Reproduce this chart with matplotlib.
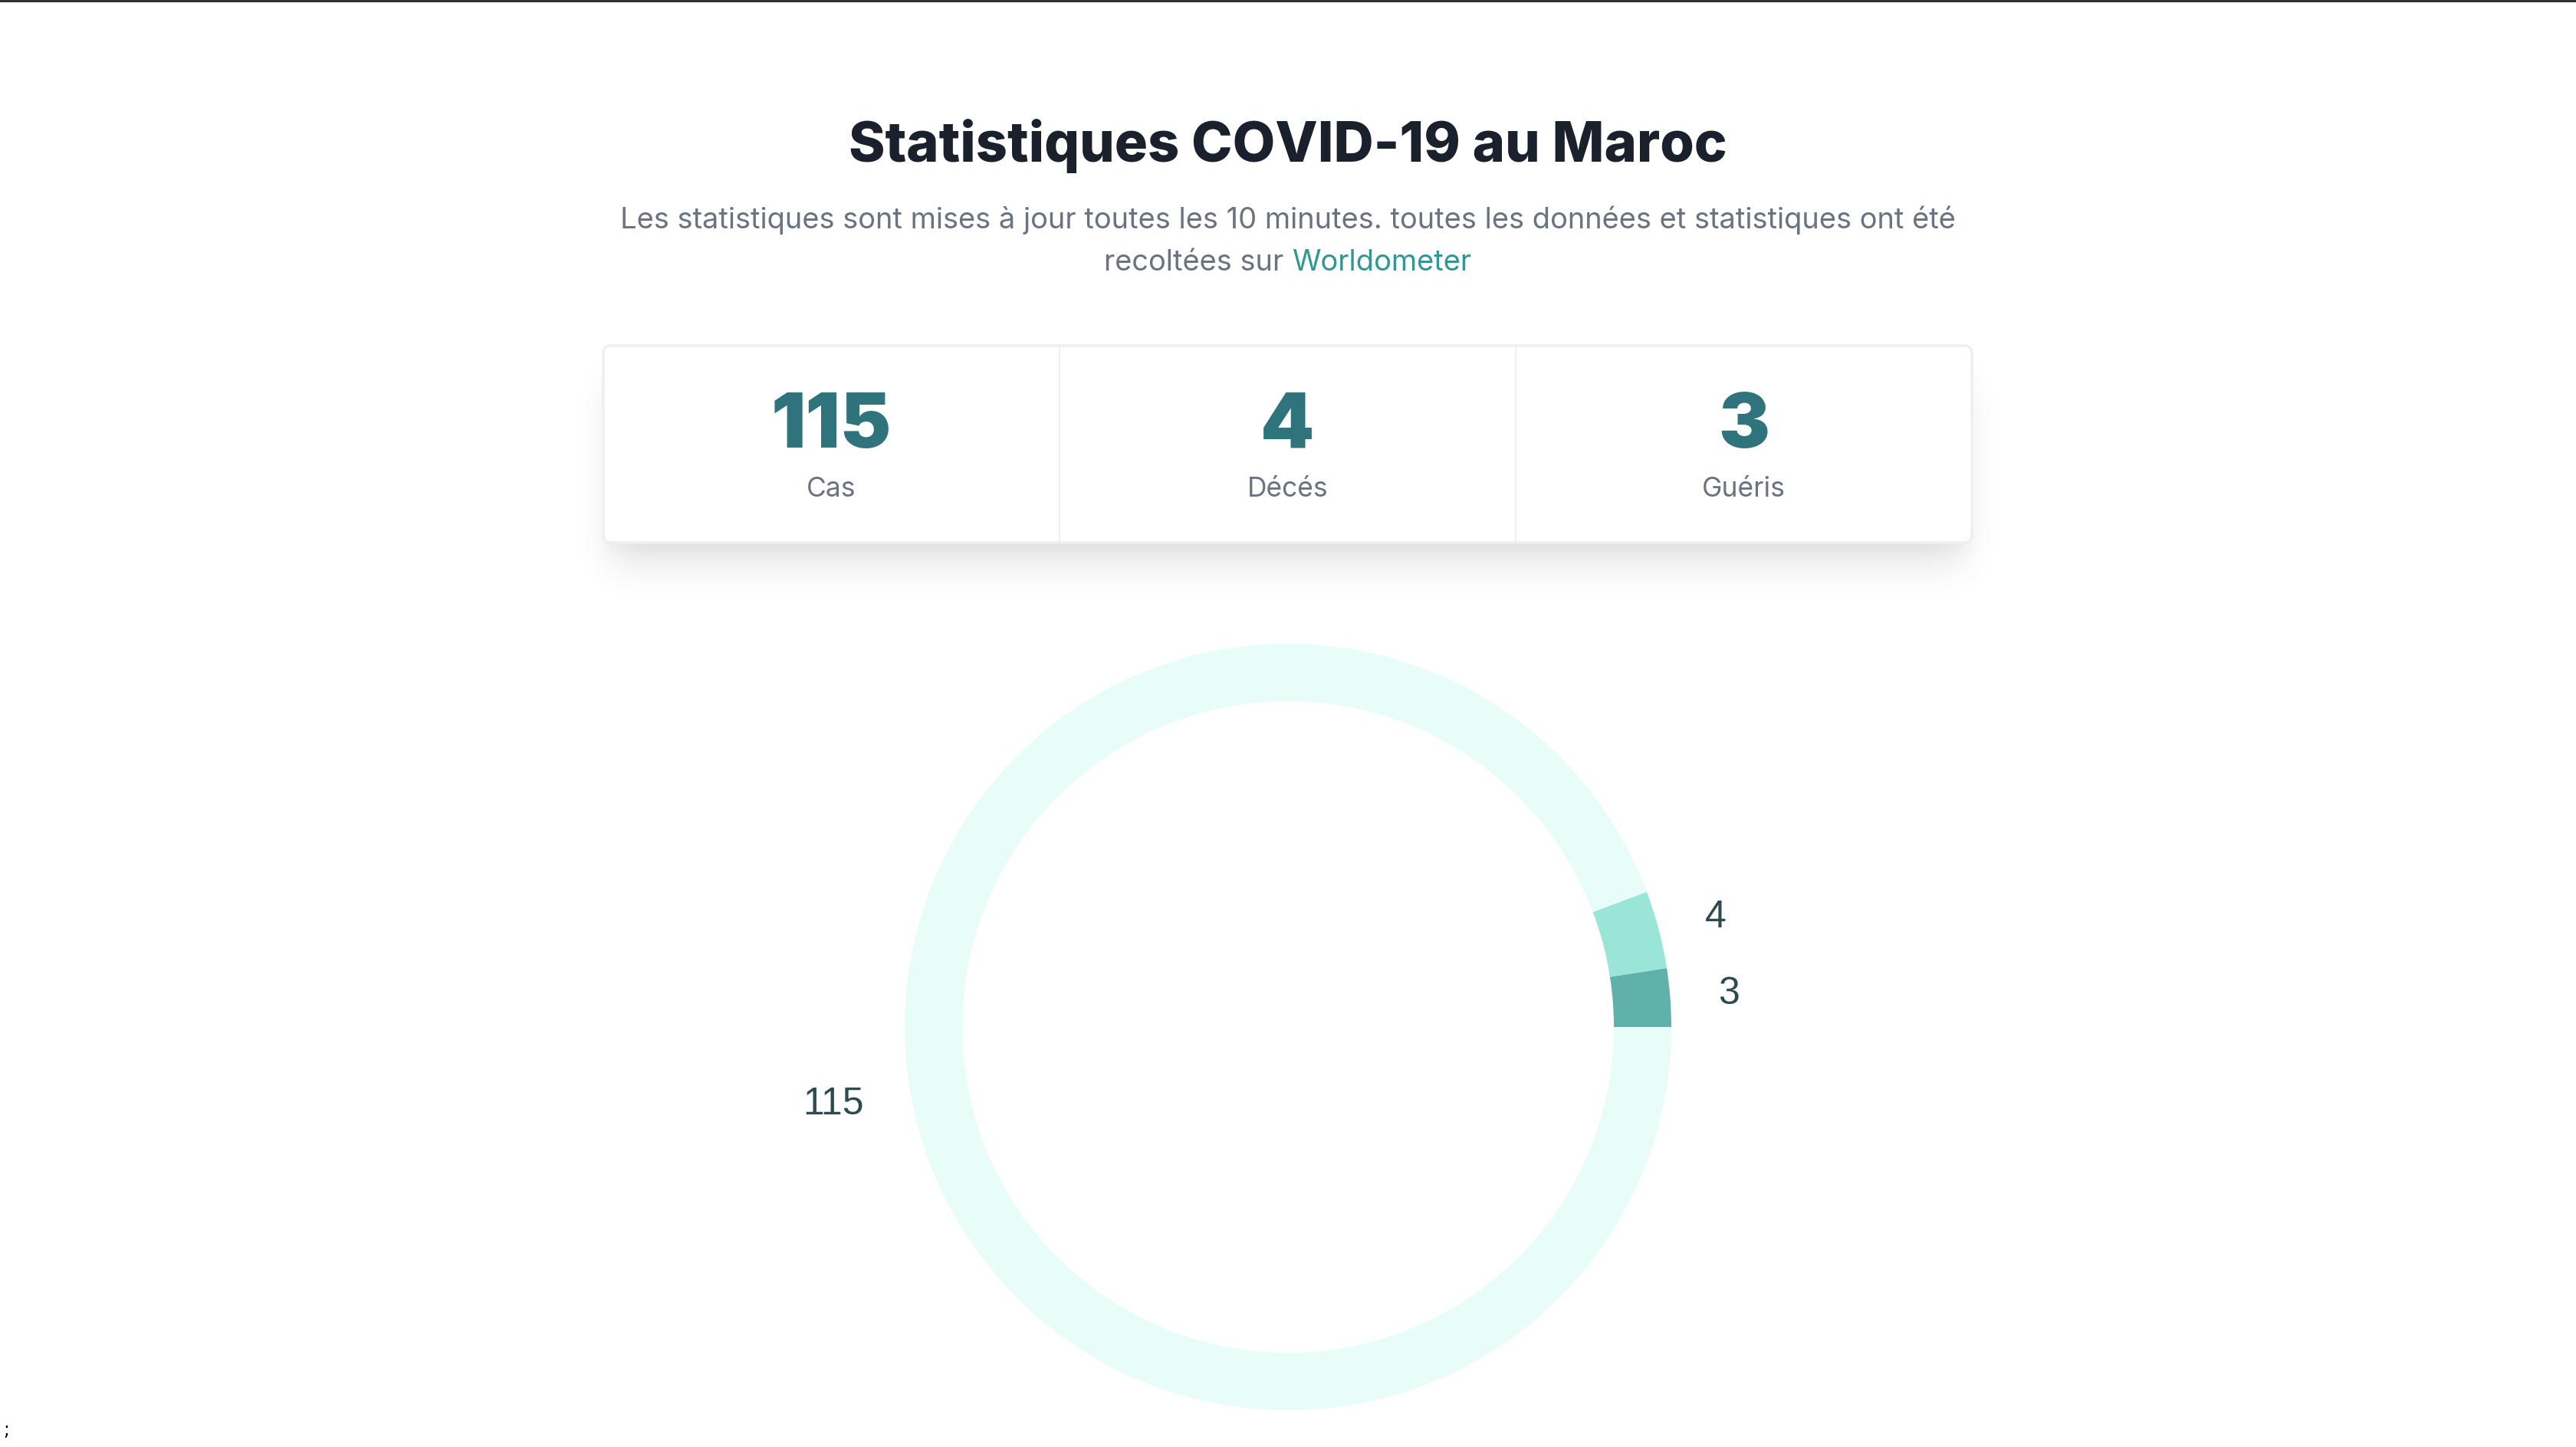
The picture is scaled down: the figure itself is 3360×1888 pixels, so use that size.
import math

import matplotlib
matplotlib.use("Agg")
import matplotlib.pyplot as plt
import numpy as np
from matplotlib.patches import FancyBboxPatch, Rectangle

plt.rcParams["font.family"] = ["Inter", "DejaVu Sans"]

# data
title = "Statistiques COVID-19 au Maroc"
subtitle_1 = "Les statistiques sont mises à jour toutes les 10 minutes. toutes les données et statistiques ont été"
subtitle_2 = "recoltées sur "
link_text = "Worldometer"
categories = ["Cas", "Décés", "Guéris"]
values = [115, 4, 3]
ring_colors = ["#e8fcf8", "#9ae5d8", "#60b1aa"]

W, H = 3360, 1888
fig = plt.figure(figsize=(W / 100, H / 100), dpi=100)
fig.patch.set_facecolor("white")

# page layer in pixel coordinates
page = fig.add_axes([0, 0, 1, 1])
page.set_xlim(0, W)
page.set_ylim(H, 0)
page.axis("off")

page.add_patch(Rectangle((0, 0), W, 2.5, color="#333333", lw=0))

page.text(1680, 190, title, ha="center", va="center", fontsize=51.9,
          fontweight=800, color="#1a202c")
page.text(1680, 287, subtitle_1, ha="center", va="center", fontsize=27.4,
          color="#6b7280")

# second subtitle line with coloured link, centred as a whole
t1 = page.text(0, 343, subtitle_2, ha="left", va="center", fontsize=27.4, color="#6b7280")
t2 = page.text(0, 343, link_text, ha="left", va="center", fontsize=27.4, color="#319795")
r = fig.canvas.get_renderer()
w1 = t1.get_window_extent(r).width
w2 = t2.get_window_extent(r).width
x0 = 1680 - (w1 + w2) / 2
t1.set_x(x0)
t2.set_x(x0 + w1)

# stats card
cx0, cy0, cx1, cy1 = 787, 451, 2572, 708

# blurred box shadow (two layers, like a css shadow-xl)
erf = np.vectorize(math.erf)
sx0, sx1, sy0, sy1 = 680, 2680, 400, 840
xs = np.arange(sx0, sx1) + 0.5
ys = np.arange(sy0, sy1) + 0.5
alpha = np.zeros((len(ys), len(xs)))
for dy, blur, spread, a in [(40, 25, -10, 0.10), (20, 10, -10, 0.04)]:
    k = blur * math.sqrt(2)
    fx = 0.5 * (erf((xs - (cx0 - spread)) / k) - erf((xs - (cx1 + spread)) / k))
    fy = 0.5 * (erf((ys - (cy0 + dy - spread)) / k) - erf((ys - (cy1 + dy + spread)) / k))
    alpha = 1 - (1 - alpha) * (1 - a * np.outer(fy, fx))
shadow = np.zeros((len(ys), len(xs), 4))
shadow[..., 3] = alpha
page.imshow(shadow, extent=(sx0, sx1, sy1, sy0), origin="upper",
            interpolation="bilinear", aspect="auto", zorder=1)
page.set_xlim(0, W)
page.set_ylim(H, 0)

page.add_patch(FancyBboxPatch((cx0, cy0), cx1 - cx0, cy1 - cy0,
                              boxstyle="round,pad=0,rounding_size=10",
                              fc="white", ec="#edf0f3", lw=2.5, zorder=2))
col_w = (cx1 - cx0) / len(categories)
for i, (cat, val) in enumerate(zip(categories, values)):
    xc = cx0 + col_w * (i + 0.5)
    if i > 0:
        page.plot([cx0 + col_w * i] * 2, [cy0 + 2, cy1 - 2], color="#eef0f3", lw=1.5, zorder=3)
    page.text(xc, 558, str(val), ha="center", va="center", fontsize=72,
              fontweight=900, color="#2f737d", zorder=4)
    page.text(xc, 638, cat, ha="center", va="center", fontsize=25.5, color="#6b7280", zorder=4)

page.text(4, 1866, ";", ha="left", va="center", fontsize=17, color="black",
          family="DejaVu Sans")

# donut
size = 1200
ax = fig.add_axes([(1680 - size / 2) / W, (H - 1340 - size / 2) / H, size / W, size / H])
ax.pie(values[::-1], colors=ring_colors[::-1], startangle=0, counterclock=True,
       radius=1, labels=[str(v) for v in values[::-1]], labeldistance=1.125,
       wedgeprops=dict(width=0.15, edgecolor="none"),
       textprops=dict(fontsize=36, color="#2d4b4f", family=["Liberation Sans", "DejaVu Sans"]))
for t in ax.texts:
    t.set_va("center")
ax.set_xlim(-1.2, 1.2)
ax.set_ylim(-1.2, 1.2)
ax.set_aspect("equal")
ax.axis("off")

fig.savefig("out.png", dpi=100, facecolor="white")
